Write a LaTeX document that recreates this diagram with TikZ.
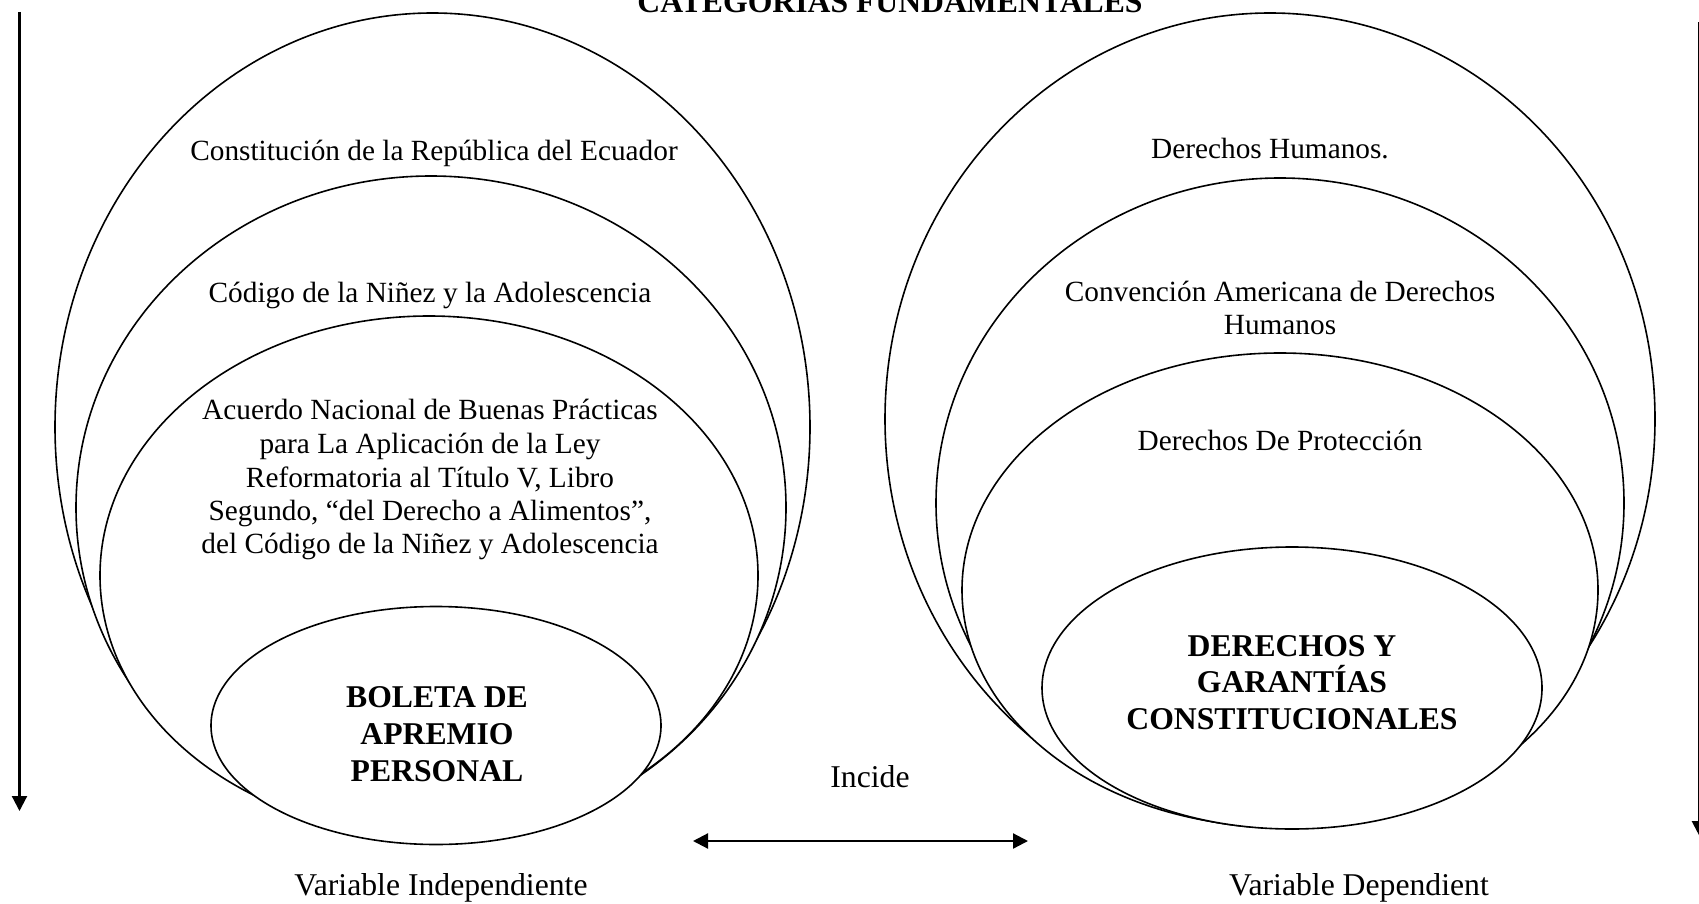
\documentclass[tikz,border=0pt]{standalone}
\usepackage{fontspec}
\setmainfont{Liberation Serif}
\usetikzlibrary{shapes.geometric,arrows.meta}
\begin{document}
\begin{tikzpicture}[x=1pt,y=-1pt,
  ring/.style={draw, line width=1.6pt, fill=white, ellipse, inner sep=0pt, outer sep=0pt},
  lbl/.style={anchor=base, inner sep=0pt, font=\fontsize{29.3}{33.6}\selectfont},
  foot/.style={anchor=base, inner sep=0pt, font=\fontsize{31.7}{37}\selectfont},
  core/.style={anchor=base, inner sep=0pt, font=\fontsize{31.7}{37}\selectfont\bfseries},
  axis/.style={line width=2.2pt, -{Triangle[length=15pt,width=15pt]}},
  link/.style={line width=2.2pt, {Triangle[length=15pt,width=15pt]}-{Triangle[length=15pt,width=15pt]}}]
\useasboundingbox (0,0) rectangle (1699,904);

% title
\node[core] (title) at (890,12.5) {CATEGORIAS FUNDAMENTALES};

% side arrows
\coordinate (ltop) at (19.5,12);
\coordinate (lbot) at (19.5,811);
\draw[axis] (ltop) -- (lbot);
\coordinate (rtop) at (1699.4,22);
\coordinate (rbot) at (1699.4,836);
\draw[axis] (rtop) -- (rbot);

% independent variable: nested rings
\node[ring, minimum width=755pt, minimum height=828pt] (L1) at (432.5,427) {};
\node[ring, minimum width=710pt, minimum height=663pt] (L2) at (431,507.5) {};
\node[ring, minimum width=658pt, minimum height=519pt] (L3) at (429,575.5) {};
\node[ring, minimum width=450pt, minimum height=238pt] (L4) at (436,725.5) {};

% dependent variable: nested rings
\node[ring, minimum width=770pt, minimum height=812pt] (R1) at (1270,419) {};
\node[ring, minimum width=688pt, minimum height=650pt] (R2) at (1280,503) {};
\node[ring, minimum width=636pt, minimum height=474pt] (R3) at (1280,590) {};
\node[ring, minimum width=500pt, minimum height=282pt] (R4) at (1292,688) {};

% labels, left
\node[lbl] (l1t) at (434,161) {Constitución de la República del Ecuador};
\node[lbl] (l2t) at (430,302) {Código de la Niñez y la Adolescencia};
\node[lbl] (l3a) at (430,419) {Acuerdo Nacional de Buenas Prácticas};
\node[lbl] (l3b) at (430,453) {para La Aplicación de la Ley};
\node[lbl] (l3c) at (430,487) {Reformatoria al Título V, Libro};
\node[lbl] (l3d) at (430,520) {Segundo, “del Derecho a Alimentos”,};
\node[lbl] (l3e) at (430,553) {del Código de la Niñez y Adolescencia};
\node[core] (l4a) at (437,707) {BOLETA DE};
\node[core] (l4b) at (437,744) {APREMIO};
\node[core] (l4c) at (437,781) {PERSONAL};

% labels, right
\node[lbl] (r1t) at (1270,159) {Derechos Humanos.};
\node[lbl] (r2a) at (1280,301) {Convención Americana de Derechos};
\node[lbl] (r2b) at (1280,334) {Humanos};
\node[lbl] (r3t) at (1280,450) {Derechos De Protección};
\node[core] (r4a) at (1292,656) {DERECHOS Y};
\node[core] (r4b) at (1292,692) {GARANTÍAS};
\node[core] (r4c) at (1292,729) {CONSTITUCIONALES};

% relation between the two variables
\node[foot] (inc) at (870,787) {Incide};
\coordinate (aL) at (693,841);
\coordinate (aR) at (1028,841);
\draw[link] (aL) -- (aR);

\node[foot] (vi) at (441,895) {Variable Independiente};
\node[foot] (vd) at (1359,895) {Variable Dependient};
\end{tikzpicture}
\end{document}
